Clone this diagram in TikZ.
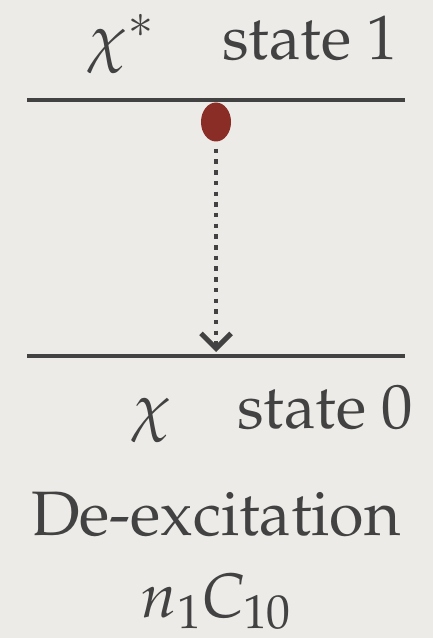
\documentclass[tikz,border=0pt]{standalone}
\usepackage[T1]{fontenc}
\usepackage{mathpazo}
\usetikzlibrary{arrows.meta,positioning,shapes.geometric}
\definecolor{ink}{HTML}{424242}
\definecolor{papier}{HTML}{EDEBE8}
\definecolor{rouge}{HTML}{8A2D27}

\begin{document}
\begin{tikzpicture}[
  x=1bp,y=-1bp,
  >={Straight Barb[length=15bp,width=30bp,line width=5bp]},
  niveau/.style={line width=4bp,draw=ink},
  etiq/.style={text=ink,inner sep=0pt,anchor=base west,font=\fontsize{63}{75}\selectfont},
  pointille/.style={->,draw=ink,line width=4.5bp,dash pattern=on 4.5bp off 6.2bp},
]
  % Fond
  \fill[papier] (0,0) rectangle (433,638);
  \useasboundingbox (0,0) rectangle (433,638);

  % Niveaux
  \coordinate (h1) at (27,100);
  \coordinate (h2) at (405,100);
  \coordinate (b1) at (27,356);
  \coordinate (b2) at (405,356);
  \draw[niveau] (h1) -- (h2);
  \draw[niveau] (b1) -- (b2);

  % Etiquettes
  \node[etiq] (chietoile) at (88,60) {$\chi^*$};
  \node[etiq] (etat1) at (222,60) {state 1};
  \node[etiq] (chi) at (132,428) {$\chi$};
  \node[etiq] (etat0) at (237,428) {state 0};
  \node[etiq,anchor=base] (desex) at (216,535) {De-excitation};
  \node[etiq,anchor=base] (taux) at (216,617) {$n_1C_{10}$};

  % Particule et transition
  \node[fill=rouge,ellipse,minimum width=30bp,minimum height=39bp,inner sep=0pt] (part) at (216,122) {};
  \coordinate (arr) at (216,352);
  \draw[pointille] ([yshift=-7bp]part.south) -- (arr);
\end{tikzpicture}
\end{document}
